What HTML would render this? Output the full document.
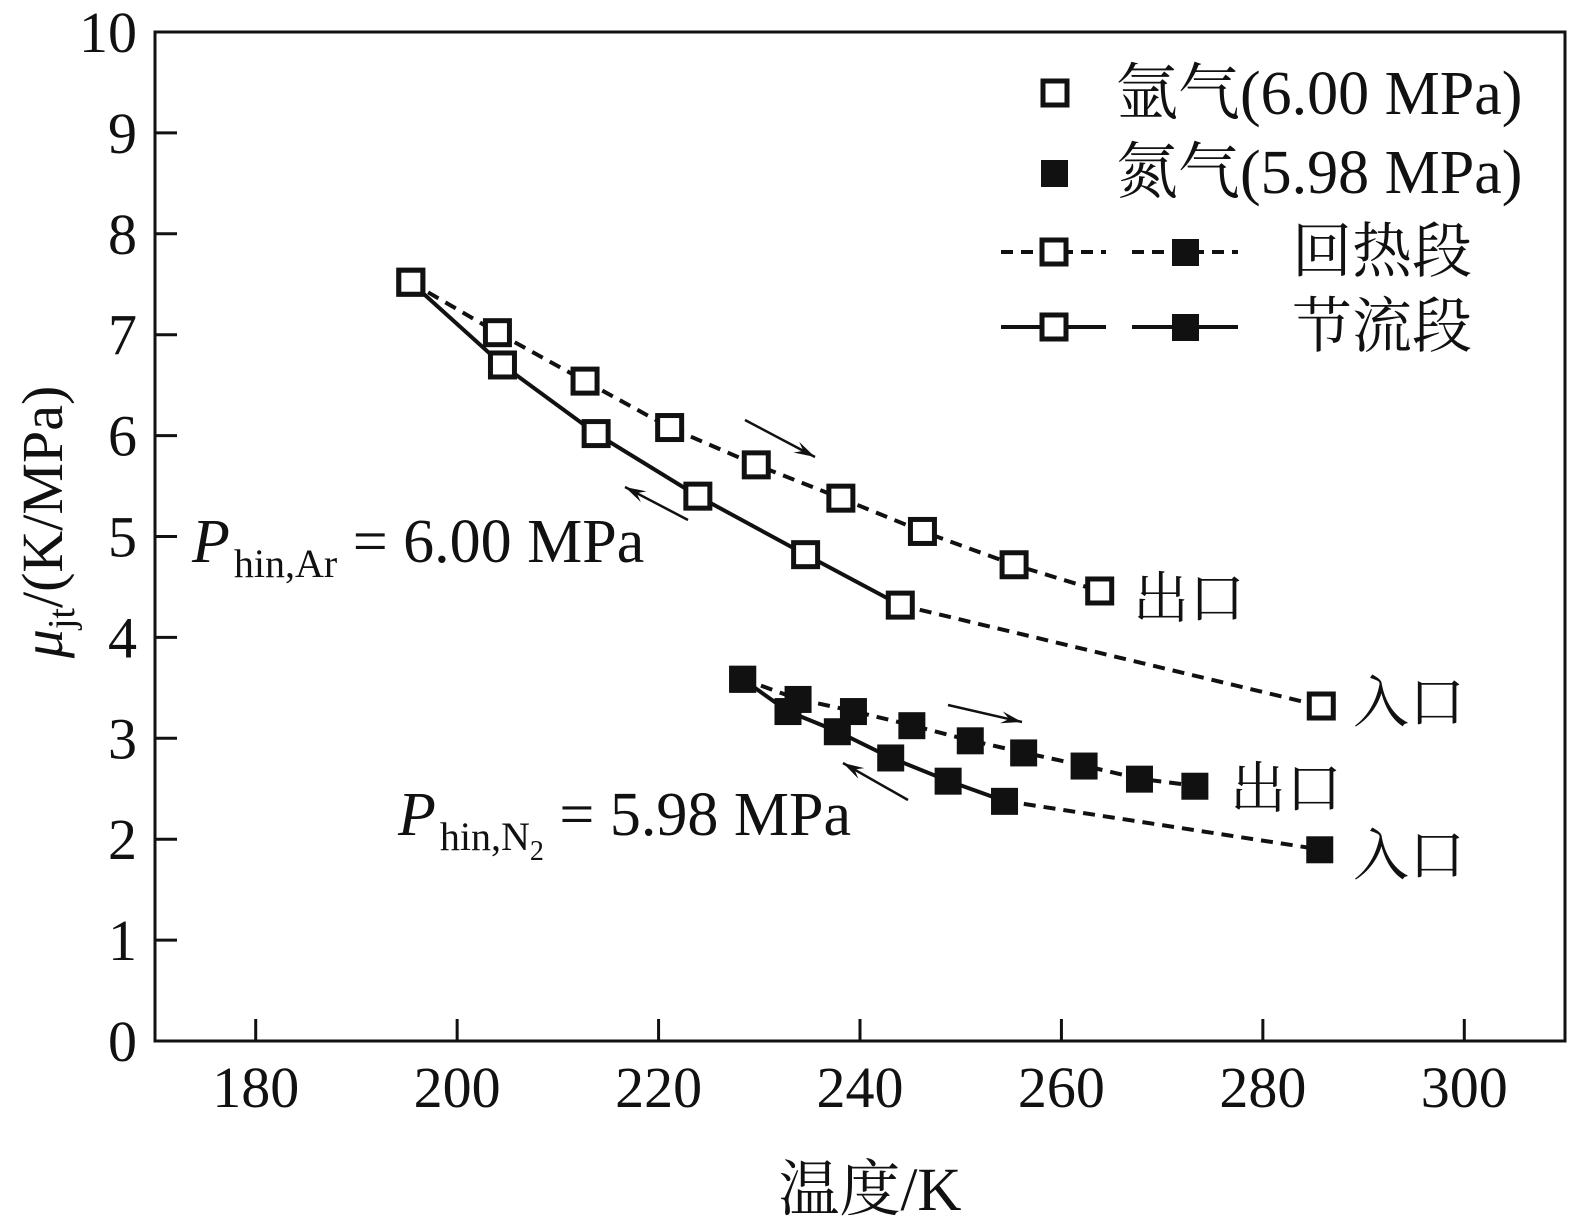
<!DOCTYPE html>
<html><head><meta charset="utf-8"><style>
html,body{margin:0;padding:0;background:#fff;overflow:hidden;width:1575px;height:1227px;}
svg{display:block;}
svg text{fill:#111;}
.serif{font-family:"Liberation Serif","Noto Serif CJK SC",serif;}
.cjk{font-family:"Liberation Serif","Noto Serif CJK SC","Noto Sans CJK SC",serif;}
</style></head><body>
<svg id="chart" width="1575" height="1227" viewBox="0 0 1575 1227" xmlns="http://www.w3.org/2000/svg">
<g id="axes"></g>
<g id="marks"></g>
<g id="legend">
  <rect x="1043" y="81" width="24" height="24" fill="#fff" stroke="#111" stroke-width="5"/>
  <text class="cjk" x="1116" y="114" font-size="62">氩气(6.00 MPa)</text>
  <rect x="1041" y="160" width="27" height="27" fill="#111"/>
  <text class="cjk" x="1116" y="193" font-size="62">氮气(5.98 MPa)</text>
  <line x1="1001" y1="252" x2="1106" y2="252" stroke="#111" stroke-width="4" stroke-dasharray="12,8"/>
  <rect x="1042" y="240" width="24" height="24" fill="#fff" stroke="#111" stroke-width="5"/>
  <line x1="1132" y1="252" x2="1238" y2="252" stroke="#111" stroke-width="4" stroke-dasharray="12,8"/>
  <rect x="1172" y="239" width="27" height="27" fill="#111"/>
  <text class="cjk" x="1292" y="272" font-size="60">回热段</text>
  <line x1="1001" y1="327" x2="1106" y2="327" stroke="#111" stroke-width="4"/>
  <rect x="1042" y="315" width="24" height="24" fill="#fff" stroke="#111" stroke-width="5"/>
  <line x1="1132" y1="327" x2="1238" y2="327" stroke="#111" stroke-width="4"/>
  <rect x="1172" y="314" width="27" height="27" fill="#111"/>
  <text class="cjk" x="1292" y="347" font-size="60">节流段</text>
</g>
<g>
  <text class="serif" x="192" y="562" font-size="62"><tspan font-style="italic">P</tspan><tspan font-size="40" dy="15" dx="4">hin,Ar</tspan><tspan dy="-15"> = 6.00 MPa</tspan></text>
  <text class="serif" x="398" y="835" font-size="62"><tspan font-style="italic">P</tspan><tspan font-size="40" dy="15" dx="4">hin,N</tspan><tspan font-size="28" dy="10">2</tspan><tspan dy="-25"> = 5.98 MPa</tspan></text>
  <text class="cjk" x="1133" y="618" font-size="56">出口</text>
  <text class="cjk" x="1353" y="722" font-size="56">入口</text>
  <text class="cjk" x="1230" y="808" font-size="56">出口</text>
  <text class="cjk" x="1353" y="875" font-size="56">入口</text>
  <text class="cjk" x="870" y="1210" font-size="61" text-anchor="middle">温度/K</text>
  <text class="serif" transform="translate(62,522) rotate(-90)" font-size="58" text-anchor="middle"><tspan font-style="italic">μ</tspan><tspan font-size="38" dy="12">jt</tspan><tspan dy="-12">/(K/MPa)</tspan></text>
</g>
</svg>
<script>
const xTicks = [180, 200, 220, 240, 260, 280, 300];
const yTicks = [0, 1, 2, 3, 4, 5, 6, 7, 8, 9, 10];
const arRegenT = [195.4, 204.0, 212.7, 221.1, 229.7, 238.1, 246.2, 255.3, 263.8];
const arRegenMu = [7.52, 7.02, 6.54, 6.08, 5.71, 5.38, 5.05, 4.72, 4.46];
const arThrotT = [195.4, 204.5, 213.8, 223.9, 234.6, 244.0];
const arThrotMu = [7.52, 6.70, 6.02, 5.40, 4.82, 4.32];
const arInletT = [285.8];
const arInletMu = [3.32];
const n2RegenT = [228.3, 233.8, 239.3, 245.1, 250.9, 256.2, 262.2, 267.7, 273.2];
const n2RegenMu = [3.59, 3.39, 3.27, 3.13, 2.98, 2.86, 2.73, 2.60, 2.53];
const n2ThrotT = [228.3, 232.8, 237.7, 243.0, 248.7, 254.3];
const n2ThrotMu = [3.59, 3.27, 3.07, 2.81, 2.58, 2.38];
const n2InletT = [285.6];
const n2InletMu = [1.90];

const X0 = 155, X1 = 1565, Y0 = 1041, Y1 = 32;
const sx = t => X0 + (t - 170) / 140 * (X1 - X0);
const sy = v => Y0 - v / 10 * (Y0 - Y1);
const NS = 'http://www.w3.org/2000/svg';
function mk(tag, attrs, parent) {
  const e = document.createElementNS(NS, tag);
  for (const k in attrs) e.setAttribute(k, attrs[k]);
  parent.appendChild(e);
  return e;
}
const axes = document.getElementById('axes');
const marks = document.getElementById('marks');
const frame = mk('rect', {x: X0, y: Y1, width: X1 - X0, height: Y0 - Y1, fill: 'none', stroke: '#111', 'stroke-width': 3}, axes);


xTicks.forEach(t => {
  const l = mk('line', {x1: sx(t), x2: sx(t), y1: Y0, y2: Y0 - 22, stroke: '#111', 'stroke-width': 3}, axes);
  
  
  const tx = mk('text', {x: sx(t), y: Y0 + 66, 'font-size': 58, 'text-anchor': 'middle', class: 'serif'}, axes);
  tx.textContent = t;
  
  
});
yTicks.forEach(v => {
  const l = mk('line', {x1: X0, x2: X0 + 22, y1: sy(v), y2: sy(v), stroke: '#111', 'stroke-width': 3}, axes);
  
  
  const tx = mk('text', {x: X0 - 18, y: sy(v) + 20, 'font-size': 58, 'text-anchor': 'end', class: 'serif'}, axes);
  tx.textContent = v;
  
  
});
function line(T, M, dashed, name) {
  const p = mk('polyline', {points: T.map((t, i) => sx(t) + ',' + sy(M[i])).join(' '), fill: 'none', stroke: '#111', 'stroke-width': 4}, marks);
  if (dashed) p.setAttribute('stroke-dasharray', '12,8');
  
  
}
function pts(T, M, filled, name) {
  T.forEach((t, i) => {
    const r = mk('rect', filled ? {x: sx(t) - 13, y: sy(M[i]) - 13, width: 27, height: 27, fill: '#111'}
      : {x: sx(t) - 12, y: sy(M[i]) - 12, width: 24, height: 24, fill: '#fff', stroke: '#111', 'stroke-width': 5}, marks);
    
    
  });
}
line(arRegenT, arRegenMu, true, 'argon-regen-line');
line(arThrotT, arThrotMu, false, 'argon-throttle-line');
line([arThrotT[arThrotT.length - 1], arInletT[0]], [arThrotMu[arThrotMu.length - 1], arInletMu[0]], true, 'argon-inlet-line');
line(n2RegenT, n2RegenMu, true, 'nitrogen-regen-line');
line(n2ThrotT, n2ThrotMu, false, 'nitrogen-throttle-line');
line([n2ThrotT[n2ThrotT.length - 1], n2InletT[0]], [n2ThrotMu[n2ThrotMu.length - 1], n2InletMu[0]], true, 'nitrogen-inlet-line');
pts(arRegenT, arRegenMu, false, 'argon-regen-point');
pts(arThrotT, arThrotMu, false, 'argon-throttle-point');
pts(arInletT, arInletMu, false, 'argon-inlet-point');
pts(n2RegenT, n2RegenMu, true, 'nitrogen-regen-point');
pts(n2ThrotT, n2ThrotMu, true, 'nitrogen-throttle-point');
pts(n2InletT, n2InletMu, true, 'nitrogen-inlet-point');
function arrow(x1, y1, x2, y2, name) {
  const g = mk('g', {}, marks);
  
  
  mk('line', {x1, y1, x2, y2, stroke: '#111', 'stroke-width': 2.5}, g);
  const a = Math.atan2(y2 - y1, x2 - x1), L = 22, w = 0.28;
  mk('polygon', {points: `${x2 - L * Math.cos(a - w)},${y2 - L * Math.sin(a - w)} ${x2},${y2} ${x2 - L * Math.cos(a + w)},${y2 - L * Math.sin(a + w)} ${x2 - 0.6 * L * Math.cos(a)},${y2 - 0.6 * L * Math.sin(a)}`, fill: '#111'}, g);
}
arrow(745, 420, 815, 457, 'argon-regen-arrow');
arrow(688, 520, 625, 487, 'argon-throttle-arrow');
arrow(948, 705, 1022, 722, 'nitrogen-regen-arrow');
arrow(908, 800, 843, 763, 'nitrogen-throttle-arrow');
</script>
</body></html>
